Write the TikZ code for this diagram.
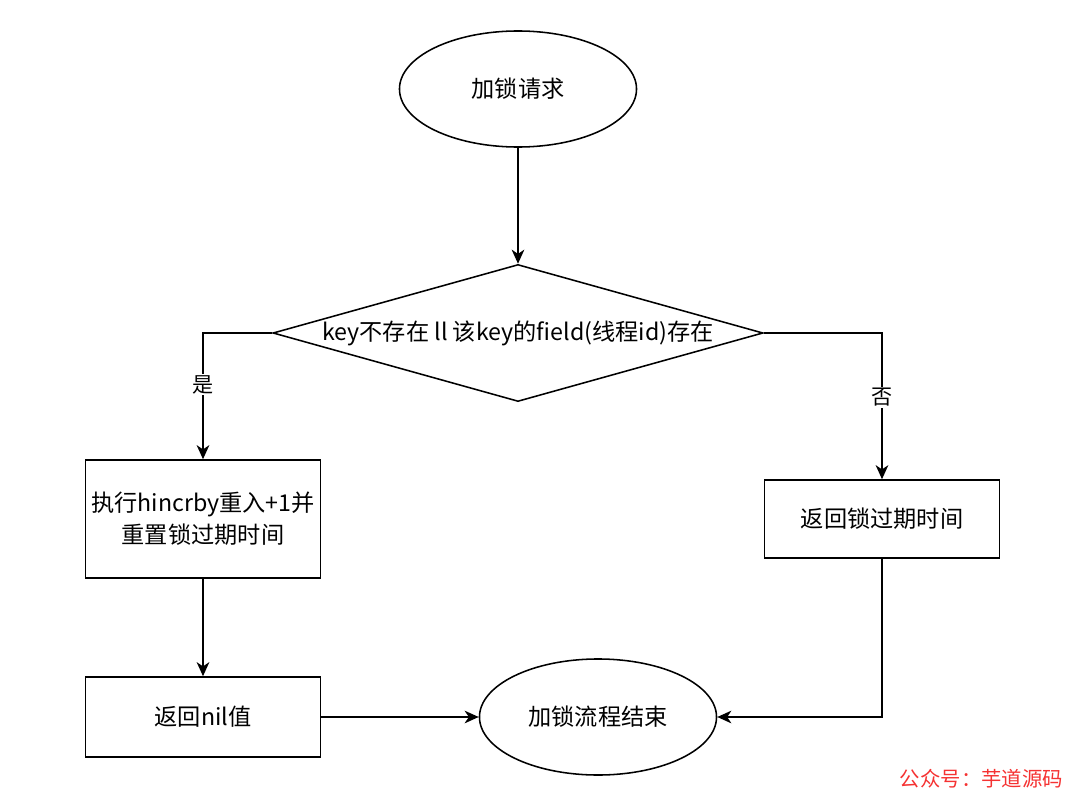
\documentclass[tikz,border=0pt]{standalone}
\usepackage{fontspec}
\setmainfont{Noto Sans CJK SC}
\usetikzlibrary{positioning,arrows.meta,shapes.geometric}
\definecolor{markred}{RGB}{245,50,50}
\tikzset{
    terminal/.style={
        draw,
        ellipse,
        line width=1.1pt,
        fill=white,
        font=\fontsize{16.5}{20}\selectfont,
        minimum width=5.925cm,
        minimum height=2.9cm
    },
    decision/.style={
        draw,
        diamond,
        aspect=3.58,
        line width=1.1pt,
        fill=white,
        inner sep=0pt,
        font=\fontsize{16.5}{20}\selectfont,
        minimum width=12.25cm,
        minimum height=3.425cm
    },
    process/.style={
        draw,
        rectangle,
        line width=1.1pt,
        fill=white,
        align=center,
        font=\fontsize{16.5}{23}\selectfont,
        minimum width=5.875cm
    },
    branchlabel/.style={
        fill=white,
        inner sep=1pt,
        font=\fontsize{15}{17}\selectfont
    },
    arrow/.style={-{Stealth[length=10pt,width=9pt,inset=3pt]}, line width=1.1pt}
}

\begin{document}
\begin{tikzpicture}[x=0.025cm,y=-0.025cm]
\useasboundingbox (0,0) rectangle (1080,802);

\node[terminal] (start) at (518,89) {加锁请求};

% Decision
\node[decision] (check) at (518,333)
{key不存在 ll 该key的field(线程id)存在};

\draw[arrow] (start) -- (check);

% Left branch
\node[process, minimum height=2.95cm] (reentry) at (203,519)
{执行hincrby重入+1并\\重置锁过期时间};

\node[process, minimum height=2cm] (retnil) at (203,717)
{返回nil值};

% Right branch
\node[process, minimum height=1.95cm] (retttl) at (882,519)
{返回锁过期时间};

\node[terminal] (stop) at (598,717) {加锁流程结束};

\draw[arrow] (check.west) -| node[branchlabel, pos=0.705] {是} (reentry.north);
\draw[arrow] (check.east) -| node[branchlabel, pos=0.72] {否} (retttl.north);
\draw[arrow] (reentry) -- (retnil);
\draw[arrow] (retnil) -- (stop);
\draw[arrow] (retttl.south) |- (stop.east);

\node[text=markred, font=\fontsize{14.5}{16}\selectfont, anchor=east] (mark) at (1068,779)
{公众号：芋道源码};

\end{tikzpicture}
\end{document}
